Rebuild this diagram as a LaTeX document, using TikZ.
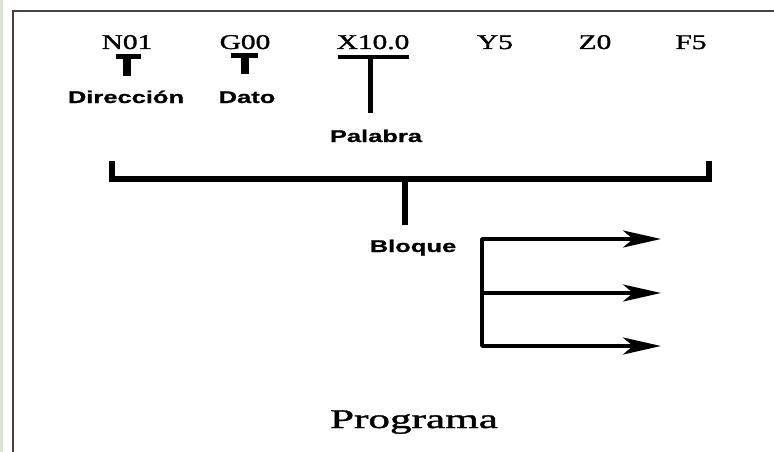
\documentclass[tikz,border=0pt]{standalone}
\usepackage{fontspec}
\usepackage{graphicx}
\usetikzlibrary{arrows.meta}
\newfontfamily\codefont[FakeBold=1.2]{Liberation Serif}
\newfontfamily\tagfont[FakeBold=0.8]{Liberation Sans}
% horizontally widened text
\newcommand\wide[2]{\scalebox{#1}[1]{#2}}
\definecolor{framegray}{HTML}{444444}
\definecolor{edgetint}{HTML}{DCE3D8}
\tikzset{
  code/.style={font=\codefont\fontsize{21}{25}\selectfont, anchor=base, inner sep=0pt},
  tag/.style={font=\tagfont\bfseries\fontsize{17}{20}\selectfont, anchor=base, inner sep=0pt},
  title/.style={font=\codefont\fontsize{27}{30}\selectfont, anchor=base, inner sep=0pt},
  frame/.style={draw=framegray, line width=1.8pt},
  brace/.style={line width=5.5pt, line join=miter, line cap=butt},
  flow/.style={line width=3.6pt, line join=round,
    -{Stealth[length=38pt, width=17pt, inset=10pt]}},
}
\begin{document}
\begin{tikzpicture}[x=1pt, y=-1pt]
  \useasboundingbox (0,0) rectangle (774,452);
  \fill[edgetint] (0,0) rectangle (3,452);
  % outer frame, open to the right and bottom
  \draw[frame] (13,460) -- (13,11) -- (780,11);

  % words of the block
  \node[code] (n01) at (127,49) {\wide{1.4}{N01}};
  \node[code] (g00) at (245,49) {\wide{1.4}{G00}};
  \node[code] (x10) at (373,49) {\wide{1.4}{X10.0}};
  \node[code] (y5)  at (495,49) {\wide{1.4}{Y5}};
  \node[code] (z0)  at (595,49) {\wide{1.4}{Z0}};
  \node[code] (f5)  at (691,49) {\wide{1.4}{F5}};

  % small T marks under N01 and G00
  \fill (116,54) rectangle (141,59);
  \fill (122.5,54) rectangle (130.5,76);
  \fill (231,53) rectangle (258,58);
  \fill (240.5,53) rectangle (248.5,74);

  \node[tag] (dir)  at (126,103) {\wide{1.5}{Dirección}};
  \node[tag] (dato) at (247,103) {\wide{1.5}{Dato}};

  % word bracket
  \coordinate (wl) at (338,57);
  \coordinate (wr) at (409,57);
  \coordinate (wm) at (370,57);
  \node[tag] (pal) at (376,142) {\wide{1.5}{Palabra}};
  \draw[line width=4.5pt] (wl) -- (wr);
  \draw[line width=5pt] (wm) -- (370,113);

  % block bracket
  \coordinate (bl) at (112,161);
  \coordinate (br) at (709,161);
  \draw[brace] (bl) -- (112,179) -- (709,179) -- (br);
  \draw[line width=6pt] (404.5,179) -- (404.5,225);
  \node[tag] (blq) at (413,252) {\wide{1.5}{Bloque}};

  % fan of arrows
  \coordinate (a1) at (661,239);
  \coordinate (a2) at (661,293);
  \coordinate (a3) at (661,346);
  \draw[flow] (482,293) -- (482,239) -- (a1);
  \draw[flow] (482,293) -- (a2);
  \draw[flow] (482,293) -- (482,346) -- (a3);

  \node[title] (prog) at (414,428) {\wide{1.6}{Programa}};
\end{tikzpicture}
\end{document}
